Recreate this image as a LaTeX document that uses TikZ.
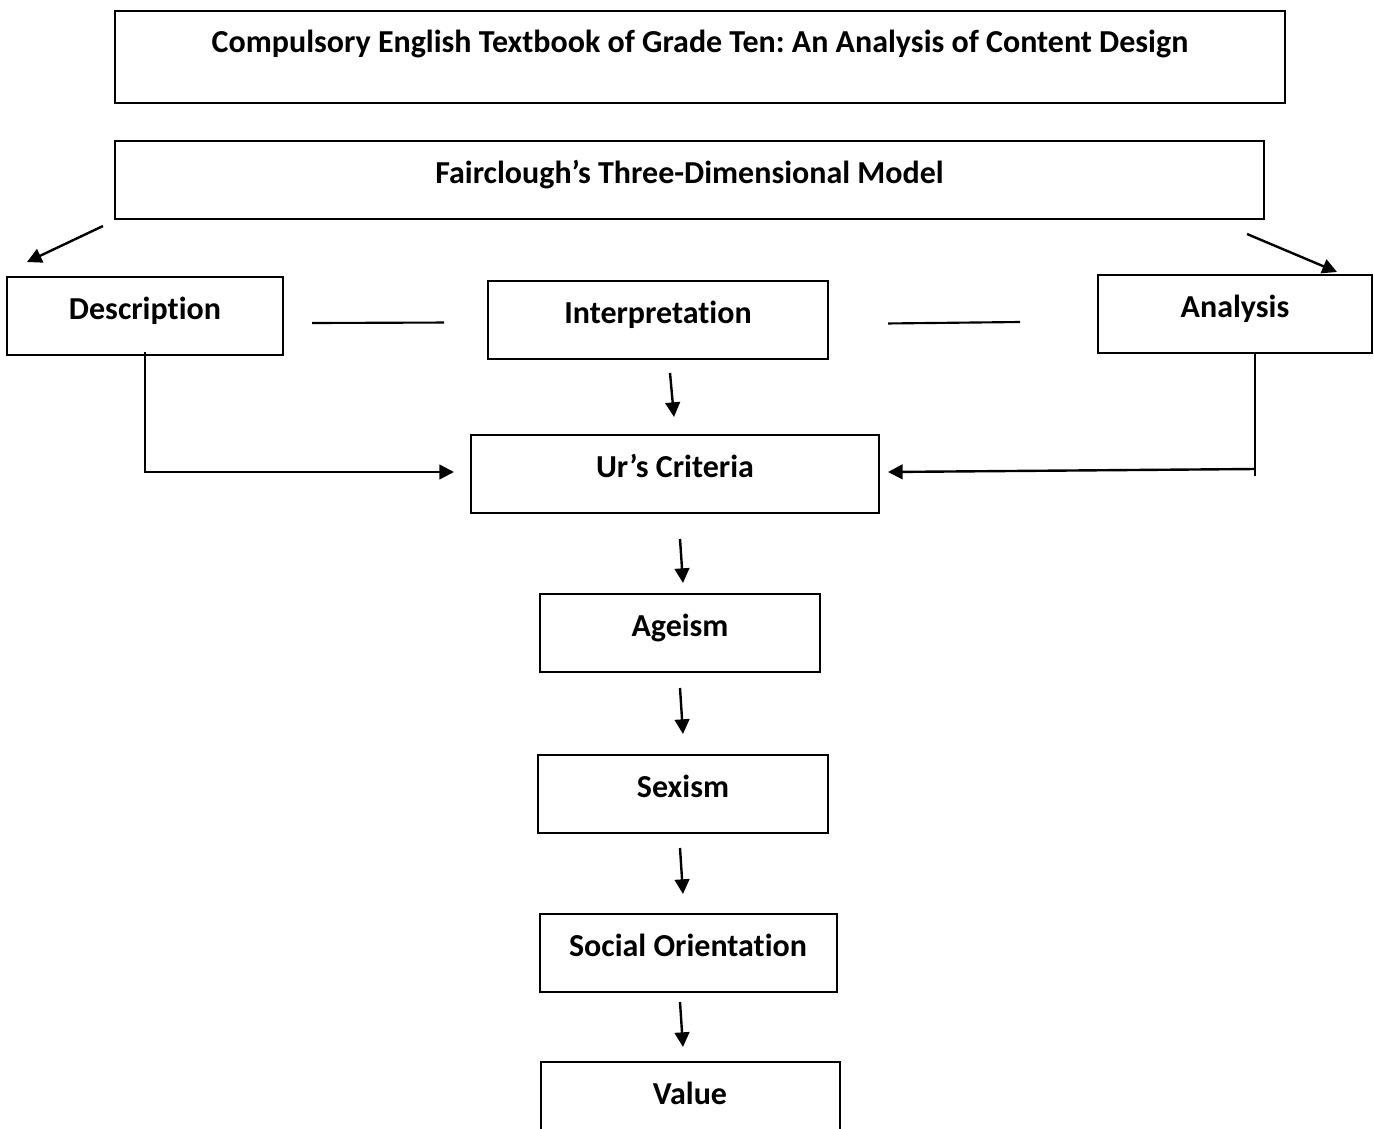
\documentclass[tikz,border=0pt]{standalone}
\usepackage{fontspec}
\setmainfont[Ligatures=NoCommon]{Carlito}
\usetikzlibrary{arrows.meta, positioning}
\tikzstyle{box} = [draw, rectangle, line width=1.5pt, inner sep=0pt, text height=31.5pt, text depth=27pt, font=\bfseries\fontsize{24}{28}\selectfont]
\tikzstyle{arrow} = [line width=1.8pt, -{Triangle[length=11pt, width=11pt]}]
\tikzstyle{link} = [line width=1.6pt]
\frenchspacing

\begin{document}
\begin{tikzpicture}[x=0.75pt, y=-0.75pt, node distance=60.75pt]
  \useasboundingbox (0,0) rectangle (1374,1128);
  % Nodes
  \node (title) [box, anchor=north, minimum width=877.5pt, text height=30.75pt, text depth=38.25pt] at (700,10) {Compulsory English Textbook of Grade Ten: An Analysis of Content Design};
  \node (fair) [box, anchor=north, minimum width=861.75pt] at (689.5,140) {Fairclough’s Three-Dimensional Model};
  \node (desc) [box, anchor=north, minimum width=207pt] at (145,276) {Description};
  \node (interp) [box, anchor=north, minimum width=255pt] at (658,280) {Interpretation};
  \node (analysis) [box, anchor=north, minimum width=205.5pt] at (1235,274) {Analysis};
  \node (ur) [box, anchor=north, minimum width=306pt] at (675,434) {Ur’s Criteria};
  \node (ageism) [box, minimum width=210pt, below=59.25pt of ur, xshift=3.75pt] {Ageism};
  \node (sexism) [box, minimum width=217.5pt, below=of ageism, xshift=2.25pt] {Sexism};
  \node (social) [box, minimum width=222.75pt, below=59.25pt of sexism, xshift=3.75pt] {Social Orientation};
  \node (value) [box, minimum width=224.25pt, below=51pt of social, xshift=1.5pt] {Value};

  % Arrows
  \draw[arrow] ([xshift=-8.25pt, yshift=-4.5pt]fair.south west) -- ([xshift=15.75pt, yshift=10.5pt]desc.north west);
  \draw[arrow] ([xshift=-13.5pt, yshift=-10.5pt]fair.south east) -- ([xshift=-27pt, yshift=1.5pt]analysis.north east);
  \draw[link] ([xshift=21pt, yshift=-5.25pt]desc.east) -- ([xshift=-32.25pt, yshift=-1.9pt]interp.west);
  \draw[link] ([xshift=44.25pt, yshift=-2.6pt]interp.east) -- ([xshift=-57.75pt, yshift=-6pt]analysis.west);
  \draw[arrow] ([xshift=9pt, yshift=-9.75pt]interp.south) -- ([xshift=-0.75pt, yshift=12.75pt]ur.north);
  \draw[arrow] ([yshift=3pt]desc.south) |- ([xshift=-12pt, yshift=1.5pt]ur.west);
  \coordinate (anafoot) at ([xshift=15pt, yshift=-91.5pt]analysis.south);
  \draw[link] ([xshift=15pt]analysis.south) -- (anafoot);
  \draw[arrow] ([yshift=5.25pt]anafoot) -- ([xshift=6pt, yshift=1.5pt]ur.east);
  \foreach \a/\b/\sx/\s/\ex/\e in {ur/ageism/3.75/18.75/2.25/7.5, ageism/sexism/0/11.25/0/15, sexism/social/-2.25/10.5/-3.75/14.25, social/value/-6/6.75/-5.25/10.5}
    \draw[arrow] ([xshift=\sx pt, yshift=-\s pt]\a.south) -- ([xshift=\ex pt, yshift=\e pt]\b.north);
\end{tikzpicture}
\end{document}
